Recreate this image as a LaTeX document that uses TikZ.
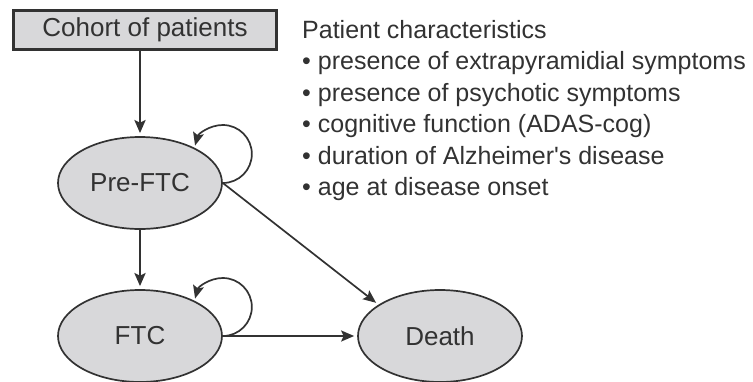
\documentclass[tikz,border=0pt]{standalone}
\usepackage{fontspec}
\setmainfont{Liberation Sans}
% same face without the TeX quote mapping, so ' stays a straight quote
\newfontfamily\labelfont{Liberation Sans}
\usetikzlibrary{shapes.geometric,arrows.meta}
\definecolor{shade}{RGB}{216,216,218}
\definecolor{ink}{RGB}{50,50,50}
\begin{document}
\begin{tikzpicture}[x=1pt,y=-1pt,
  state/.style={ellipse, draw=ink, fill=shade, line width=1.7pt,
    minimum width=164pt, minimum height=92pt, inner sep=0pt, text=ink,
    font=\labelfont\fontsize{26}{30}\selectfont},
  sourcebox/.style={rectangle, draw=ink, fill=shade, line width=2.4pt,
    minimum width=263pt, minimum height=39pt, inner sep=0pt, text=ink,
    font=\labelfont\fontsize{26}{30}\selectfont},
  flow/.style={-{Stealth[length=13pt,width=11pt,inset=2.5pt]}, draw=ink,
    line width=1.7pt, shorten >=3pt},
  thick flow/.style={flow, line width=2.8pt}]
\useasboundingbox (0,0) rectangle (753,381);

% states of the model
\node[sourcebox] (cohort) at (145,30) {Cohort of patients};
\node[state] (pre) at (140,183) {Pre-FTC};
\node[state] (ftc) at (140,336) {FTC};
\node[state] (death) at (440,336) {Death};

% transitions
\draw[thick flow] (cohort.south -| pre.north) -- (pre.north);
\draw[thick flow] (pre.south) -- (ftc.north);
\draw[flow, line width=2.1pt] (ftc.east) -- (death.west);
\draw[flow] (pre.east) -- (death.153);
\draw[flow, shorten >=1pt] (pre.east) arc[start angle=-90, end angle=165, radius=29pt];
\draw[flow, shorten >=1pt] (ftc.east) arc[start angle=-90, end angle=165, radius=29pt];

% covariates
\node[anchor=north west, inner sep=0pt, align=left, text=ink,
  font=\labelfont\fontsize{25}{31.5}\selectfont] (traits) at (302,20)
  {Patient characteristics\\
   • presence of extrapyramidial symptoms\\
   • presence of psychotic symptoms\\
   • cognitive function (ADAS-cog)\\
   • duration of Alzheimer's disease\\
   • age at disease onset};
\end{tikzpicture}
\end{document}
